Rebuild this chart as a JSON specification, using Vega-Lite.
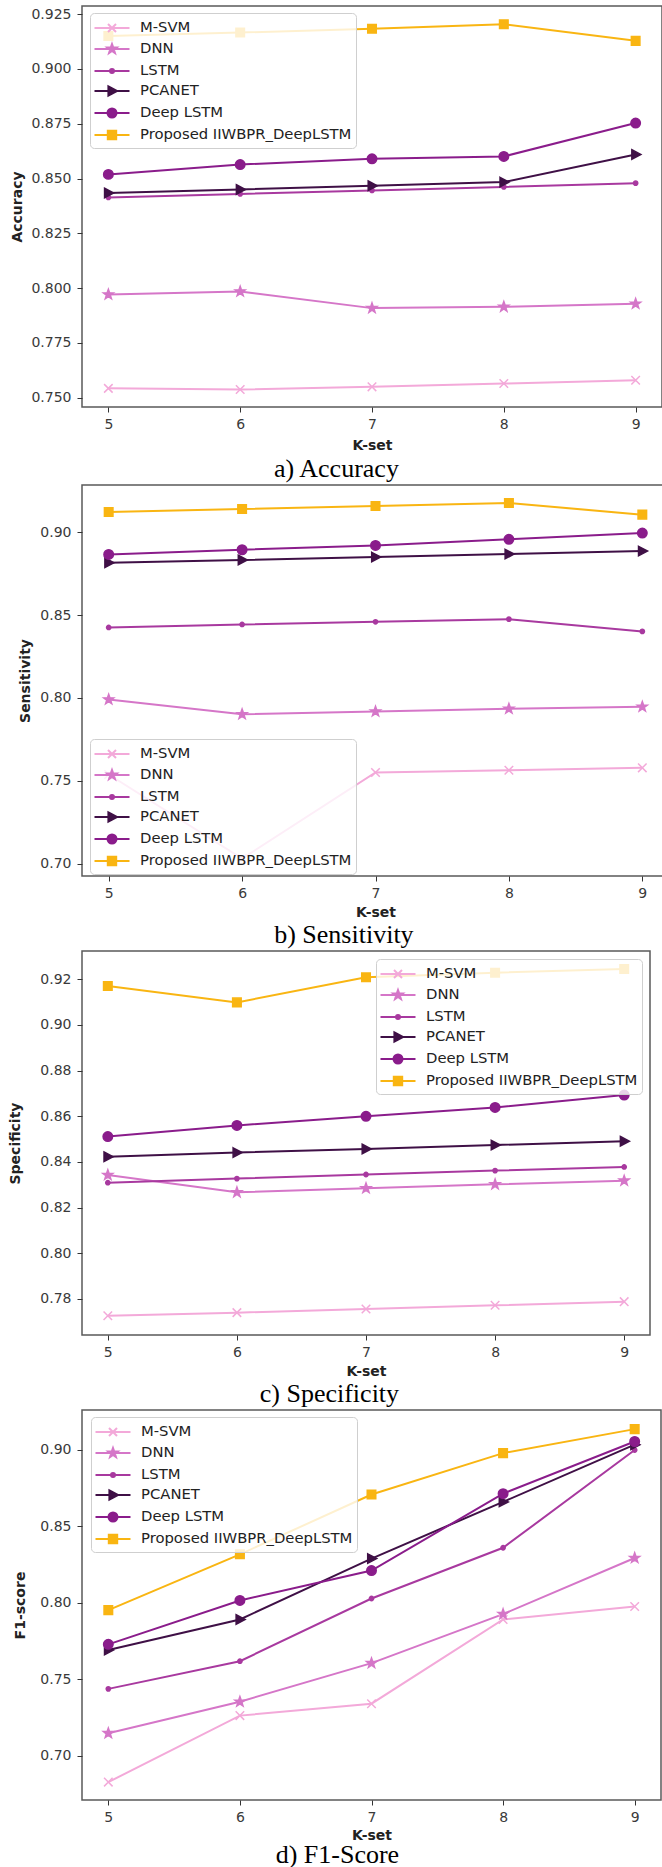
{
  "$schema": "https://vega.github.io/schema/vega-lite/v6.json",
  "background": "white",
  "padding": {"left": 8, "top": 5, "right": 0, "bottom": 0},
  "data": {"values": [
    {"metric": "Accuracy", "model": "M-SVM", "k": 5, "value": 0.7543},
    {"metric": "Accuracy", "model": "M-SVM", "k": 6, "value": 0.7538},
    {"metric": "Accuracy", "model": "M-SVM", "k": 7, "value": 0.755},
    {"metric": "Accuracy", "model": "M-SVM", "k": 8, "value": 0.7565},
    {"metric": "Accuracy", "model": "M-SVM", "k": 9, "value": 0.758},
    {"metric": "Accuracy", "model": "DNN", "k": 5, "value": 0.7971},
    {"metric": "Accuracy", "model": "DNN", "k": 6, "value": 0.7985},
    {"metric": "Accuracy", "model": "DNN", "k": 7, "value": 0.7909},
    {"metric": "Accuracy", "model": "DNN", "k": 8, "value": 0.7915},
    {"metric": "Accuracy", "model": "DNN", "k": 9, "value": 0.7929},
    {"metric": "Accuracy", "model": "LSTM", "k": 5, "value": 0.8414},
    {"metric": "Accuracy", "model": "LSTM", "k": 6, "value": 0.843},
    {"metric": "Accuracy", "model": "LSTM", "k": 7, "value": 0.8446},
    {"metric": "Accuracy", "model": "LSTM", "k": 8, "value": 0.8462},
    {"metric": "Accuracy", "model": "LSTM", "k": 9, "value": 0.8479},
    {"metric": "Accuracy", "model": "PCANET", "k": 5, "value": 0.8434},
    {"metric": "Accuracy", "model": "PCANET", "k": 6, "value": 0.845},
    {"metric": "Accuracy", "model": "PCANET", "k": 7, "value": 0.8467},
    {"metric": "Accuracy", "model": "PCANET", "k": 8, "value": 0.8484},
    {"metric": "Accuracy", "model": "PCANET", "k": 9, "value": 0.861},
    {"metric": "Accuracy", "model": "Deep LSTM", "k": 5, "value": 0.8519},
    {"metric": "Accuracy", "model": "Deep LSTM", "k": 6, "value": 0.8564},
    {"metric": "Accuracy", "model": "Deep LSTM", "k": 7, "value": 0.859},
    {"metric": "Accuracy", "model": "Deep LSTM", "k": 8, "value": 0.8601},
    {"metric": "Accuracy", "model": "Deep LSTM", "k": 9, "value": 0.8753},
    {"metric": "Accuracy", "model": "Proposed IIWBPR_DeepLSTM", "k": 5, "value": 0.915},
    {"metric": "Accuracy", "model": "Proposed IIWBPR_DeepLSTM", "k": 6, "value": 0.9166},
    {"metric": "Accuracy", "model": "Proposed IIWBPR_DeepLSTM", "k": 7, "value": 0.9183},
    {"metric": "Accuracy", "model": "Proposed IIWBPR_DeepLSTM", "k": 8, "value": 0.9204},
    {"metric": "Accuracy", "model": "Proposed IIWBPR_DeepLSTM", "k": 9, "value": 0.9128},

    {"metric": "Sensitivity", "model": "M-SVM", "k": 5, "value": 0.7538},
    {"metric": "Sensitivity", "model": "M-SVM", "k": 6, "value": 0.703},
    {"metric": "Sensitivity", "model": "M-SVM", "k": 7, "value": 0.755},
    {"metric": "Sensitivity", "model": "M-SVM", "k": 8, "value": 0.7564},
    {"metric": "Sensitivity", "model": "M-SVM", "k": 9, "value": 0.7578},
    {"metric": "Sensitivity", "model": "DNN", "k": 5, "value": 0.7991},
    {"metric": "Sensitivity", "model": "DNN", "k": 6, "value": 0.7902},
    {"metric": "Sensitivity", "model": "DNN", "k": 7, "value": 0.7918},
    {"metric": "Sensitivity", "model": "DNN", "k": 8, "value": 0.7935},
    {"metric": "Sensitivity", "model": "DNN", "k": 9, "value": 0.7947},
    {"metric": "Sensitivity", "model": "LSTM", "k": 5, "value": 0.8426},
    {"metric": "Sensitivity", "model": "LSTM", "k": 6, "value": 0.8444},
    {"metric": "Sensitivity", "model": "LSTM", "k": 7, "value": 0.846},
    {"metric": "Sensitivity", "model": "LSTM", "k": 8, "value": 0.8476},
    {"metric": "Sensitivity", "model": "LSTM", "k": 9, "value": 0.8402},
    {"metric": "Sensitivity", "model": "PCANET", "k": 5, "value": 0.8817},
    {"metric": "Sensitivity", "model": "PCANET", "k": 6, "value": 0.8833},
    {"metric": "Sensitivity", "model": "PCANET", "k": 7, "value": 0.8851},
    {"metric": "Sensitivity", "model": "PCANET", "k": 8, "value": 0.8869},
    {"metric": "Sensitivity", "model": "PCANET", "k": 9, "value": 0.8887},
    {"metric": "Sensitivity", "model": "Deep LSTM", "k": 5, "value": 0.8867},
    {"metric": "Sensitivity", "model": "Deep LSTM", "k": 6, "value": 0.8895},
    {"metric": "Sensitivity", "model": "Deep LSTM", "k": 7, "value": 0.8921},
    {"metric": "Sensitivity", "model": "Deep LSTM", "k": 8, "value": 0.8958},
    {"metric": "Sensitivity", "model": "Deep LSTM", "k": 9, "value": 0.8996},
    {"metric": "Sensitivity", "model": "Proposed IIWBPR_DeepLSTM", "k": 5, "value": 0.9123},
    {"metric": "Sensitivity", "model": "Proposed IIWBPR_DeepLSTM", "k": 6, "value": 0.9141},
    {"metric": "Sensitivity", "model": "Proposed IIWBPR_DeepLSTM", "k": 7, "value": 0.9159},
    {"metric": "Sensitivity", "model": "Proposed IIWBPR_DeepLSTM", "k": 8, "value": 0.9177},
    {"metric": "Sensitivity", "model": "Proposed IIWBPR_DeepLSTM", "k": 9, "value": 0.9107},

    {"metric": "Specificity", "model": "M-SVM", "k": 5, "value": 0.7726},
    {"metric": "Specificity", "model": "M-SVM", "k": 6, "value": 0.774},
    {"metric": "Specificity", "model": "M-SVM", "k": 7, "value": 0.7756},
    {"metric": "Specificity", "model": "M-SVM", "k": 8, "value": 0.7772},
    {"metric": "Specificity", "model": "M-SVM", "k": 9, "value": 0.7788},
    {"metric": "Specificity", "model": "DNN", "k": 5, "value": 0.8343},
    {"metric": "Specificity", "model": "DNN", "k": 6, "value": 0.8267},
    {"metric": "Specificity", "model": "DNN", "k": 7, "value": 0.8285},
    {"metric": "Specificity", "model": "DNN", "k": 8, "value": 0.8302},
    {"metric": "Specificity", "model": "DNN", "k": 9, "value": 0.8318},
    {"metric": "Specificity", "model": "LSTM", "k": 5, "value": 0.8309},
    {"metric": "Specificity", "model": "LSTM", "k": 6, "value": 0.8327},
    {"metric": "Specificity", "model": "LSTM", "k": 7, "value": 0.8345},
    {"metric": "Specificity", "model": "LSTM", "k": 8, "value": 0.8362},
    {"metric": "Specificity", "model": "LSTM", "k": 9, "value": 0.8378},
    {"metric": "Specificity", "model": "PCANET", "k": 5, "value": 0.8423},
    {"metric": "Specificity", "model": "PCANET", "k": 6, "value": 0.8441},
    {"metric": "Specificity", "model": "PCANET", "k": 7, "value": 0.8457},
    {"metric": "Specificity", "model": "PCANET", "k": 8, "value": 0.8474},
    {"metric": "Specificity", "model": "PCANET", "k": 9, "value": 0.8491},
    {"metric": "Specificity", "model": "Deep LSTM", "k": 5, "value": 0.8511},
    {"metric": "Specificity", "model": "Deep LSTM", "k": 6, "value": 0.856},
    {"metric": "Specificity", "model": "Deep LSTM", "k": 7, "value": 0.86},
    {"metric": "Specificity", "model": "Deep LSTM", "k": 8, "value": 0.8639},
    {"metric": "Specificity", "model": "Deep LSTM", "k": 9, "value": 0.8693},
    {"metric": "Specificity", "model": "Proposed IIWBPR_DeepLSTM", "k": 5, "value": 0.9171},
    {"metric": "Specificity", "model": "Proposed IIWBPR_DeepLSTM", "k": 6, "value": 0.9099},
    {"metric": "Specificity", "model": "Proposed IIWBPR_DeepLSTM", "k": 7, "value": 0.9209},
    {"metric": "Specificity", "model": "Proposed IIWBPR_DeepLSTM", "k": 8, "value": 0.9229},
    {"metric": "Specificity", "model": "Proposed IIWBPR_DeepLSTM", "k": 9, "value": 0.9245},

    {"metric": "F1-score", "model": "M-SVM", "k": 5, "value": 0.6826},
    {"metric": "F1-score", "model": "M-SVM", "k": 6, "value": 0.7261},
    {"metric": "F1-score", "model": "M-SVM", "k": 7, "value": 0.7339},
    {"metric": "F1-score", "model": "M-SVM", "k": 8, "value": 0.789},
    {"metric": "F1-score", "model": "M-SVM", "k": 9, "value": 0.7975},
    {"metric": "F1-score", "model": "DNN", "k": 5, "value": 0.7146},
    {"metric": "F1-score", "model": "DNN", "k": 6, "value": 0.7352},
    {"metric": "F1-score", "model": "DNN", "k": 7, "value": 0.7604},
    {"metric": "F1-score", "model": "DNN", "k": 8, "value": 0.7925},
    {"metric": "F1-score", "model": "DNN", "k": 9, "value": 0.8292},
    {"metric": "F1-score", "model": "LSTM", "k": 5, "value": 0.7436},
    {"metric": "F1-score", "model": "LSTM", "k": 6, "value": 0.7617},
    {"metric": "F1-score", "model": "LSTM", "k": 7, "value": 0.8027},
    {"metric": "F1-score", "model": "LSTM", "k": 8, "value": 0.8359},
    {"metric": "F1-score", "model": "LSTM", "k": 9, "value": 0.8998},
    {"metric": "F1-score", "model": "PCANET", "k": 5, "value": 0.769},
    {"metric": "F1-score", "model": "PCANET", "k": 6, "value": 0.789},
    {"metric": "F1-score", "model": "PCANET", "k": 7, "value": 0.8288},
    {"metric": "F1-score", "model": "PCANET", "k": 8, "value": 0.8659},
    {"metric": "F1-score", "model": "PCANET", "k": 9, "value": 0.9033},
    {"metric": "F1-score", "model": "Deep LSTM", "k": 5, "value": 0.7727},
    {"metric": "F1-score", "model": "Deep LSTM", "k": 6, "value": 0.8014},
    {"metric": "F1-score", "model": "Deep LSTM", "k": 7, "value": 0.821},
    {"metric": "F1-score", "model": "Deep LSTM", "k": 8, "value": 0.8713},
    {"metric": "F1-score", "model": "Deep LSTM", "k": 9, "value": 0.9054},
    {"metric": "F1-score", "model": "Proposed IIWBPR_DeepLSTM", "k": 5, "value": 0.7951},
    {"metric": "F1-score", "model": "Proposed IIWBPR_DeepLSTM", "k": 6, "value": 0.8316},
    {"metric": "F1-score", "model": "Proposed IIWBPR_DeepLSTM", "k": 7, "value": 0.8707},
    {"metric": "F1-score", "model": "Proposed IIWBPR_DeepLSTM", "k": 8, "value": 0.8978},
    {"metric": "F1-score", "model": "Proposed IIWBPR_DeepLSTM", "k": 9, "value": 0.9135}
  ]},
  "columns": 1,
  "align": "none",
  "spacing": 1,
  "resolve": {"scale": {"color": "independent", "shape": "independent", "stroke": "independent"}},
  "concat": [
    {
      "width": 580, "height": 401,
      "transform": [{"filter": "datum.metric === 'Accuracy'"}],
      "title": {"text": "a) Accuracy", "orient": "bottom", "anchor": "middle", "frame": "bounds", "font": "Liberation Serif", "fontSize": 26, "fontWeight": "normal", "color": "#000000", "offset": 4},
      "encoding": {
        "x": {"field": "k", "type": "quantitative", "scale": {"domain": [4.8, 9.2], "nice": false, "zero": false}, "axis": {"values": [5, 6, 7, 8, 9], "format": "d", "title": "K-set", "titlePadding": 7}},
        "y": {"field": "value", "type": "quantitative", "scale": {"domain": [0.7458, 0.9287], "nice": false, "zero": false}, "axis": {"values": [0.75, 0.775, 0.8, 0.825, 0.85, 0.875, 0.9, 0.925], "format": ".3f", "title": "Accuracy", "titlePadding": 6}}
      },
      "layer": [
        {"mark": {"type": "line", "strokeWidth": 2}, "encoding": {"color": {"field": "model", "type": "nominal", "scale": {"domain": ["M-SVM", "DNN", "LSTM", "PCANET", "Deep LSTM", "Proposed IIWBPR_DeepLSTM"], "range": ["#f3a9d9", "#d576c8", "#a8399f", "#3f1046", "#8a1c8b", "#f9b512"]}}}},
        {"mark": {"type": "point", "filled": true, "size": 90, "opacity": 1, "strokeWidth": 1.5},
         "encoding": {
           "color": {"field": "model", "type": "nominal", "scale": {"domain": ["M-SVM", "DNN", "LSTM", "PCANET", "Deep LSTM", "Proposed IIWBPR_DeepLSTM"], "range": ["#f3a9d9", "#d576c8", "#a8399f", "#3f1046", "#8a1c8b", "#f9b512"]},
             "legend": {"orient": "none", "legendX": 8, "legendY": 7, "title": null, "fillColor": "rgba(255,255,255,0.8)", "strokeColor": "#cfcfcf", "cornerRadius": 4, "padding": 4, "labelFont": "DejaVu Sans", "labelFontSize": 14.8, "labelColor": "#222222", "labelLimit": 400, "symbolOffset": 7, "labelOffset": 17, "rowPadding": 2, "symbolSize": 400, "symbolStrokeWidth": 2,
               "encoding": {"symbols": {
                 "shape": {"condition": [
                   {"test": "datum.value === 'M-SVM'", "value": "M-1.75,0H1.75M-0.4,-0.4L0.4,0.4M-0.4,0.4L0.4,-0.4"},
                   {"test": "datum.value === 'DNN'", "value": "M-1.75,0H1.75M0,-0.5L0.118,-0.162L0.476,-0.155L0.19,0.062L0.294,0.405L0,0.2L-0.294,0.405L-0.19,0.062L-0.476,-0.155L-0.118,-0.162Z"},
                   {"test": "datum.value === 'LSTM'", "value": "M-1.75,0H1.75M0.2,0A0.2,0.2,0,1,1,-0.2,0A0.2,0.2,0,1,1,0.2,0Z"},
                   {"test": "datum.value === 'PCANET'", "value": "M-1.75,0H1.75M-0.36,-0.45L0.5,0L-0.36,0.45Z"},
                   {"test": "datum.value === 'Deep LSTM'", "value": "M-1.75,0H1.75M0.45,0A0.45,0.45,0,1,1,-0.45,0A0.45,0.45,0,1,1,0.45,0Z"}
                 ], "value": "M-1.75,0H1.75M-0.42,-0.42H0.42V0.42H-0.42Z"},
                 "stroke": {"condition": [
                   {"test": "datum.value === 'M-SVM'", "value": "#f3a9d9"},
                   {"test": "datum.value === 'DNN'", "value": "#d576c8"},
                   {"test": "datum.value === 'LSTM'", "value": "#a8399f"},
                   {"test": "datum.value === 'PCANET'", "value": "#3f1046"},
                   {"test": "datum.value === 'Deep LSTM'", "value": "#8a1c8b"}
                 ], "value": "#f9b512"},
                 "strokeWidth": {"value": 2}, "opacity": {"value": 1}
               }}
             }},
           "stroke": {"field": "model", "type": "nominal", "legend": null, "scale": {"domain": ["Proposed IIWBPR_DeepLSTM", "Deep LSTM", "PCANET", "LSTM", "DNN", "M-SVM"], "range": ["#f9b512", "#8a1c8b", "#3f1046", "#a8399f", "#d576c8", "#f3a9d9"]}},
           "shape": {"field": "model", "type": "nominal", "legend": null,
             "scale": {"domain": ["Proposed IIWBPR_DeepLSTM", "Deep LSTM", "PCANET", "LSTM", "DNN", "M-SVM"], "range": ["M-0.9,-0.9H0.9V0.9H-0.9Z", "M1,0A1,1,0,1,1,-1,0A1,1,0,1,1,1,0Z", "M-0.8,-1L1.1,0L-0.8,1Z", "M0.45,0A0.45,0.45,0,1,1,-0.45,0A0.45,0.45,0,1,1,0.45,0Z", "M0,-1.1L0.259,-0.356L1.046,-0.34L0.418,0.136L0.647,0.89L0,0.44L-0.647,0.89L-0.418,0.136L-1.046,-0.34L-0.259,-0.356Z", "M-0.9,-0.9L0.9,0.9M-0.9,0.9L0.9,-0.9"]}}
         }}
      ]
    },
    {
      "width": 587, "height": 391,
      "transform": [{"filter": "datum.metric === 'Sensitivity'"}],
      "title": {"text": "b) Sensitivity", "orient": "bottom", "anchor": "middle", "frame": "bounds", "font": "Liberation Serif", "fontSize": 26, "fontWeight": "normal", "color": "#000000", "offset": 3},
      "encoding": {
        "x": {"field": "k", "type": "quantitative", "scale": {"domain": [4.8, 9.2], "nice": false, "zero": false}, "axis": {"values": [5, 6, 7, 8, 9], "format": "d", "title": "K-set", "titlePadding": 5}},
        "y": {"field": "value", "type": "quantitative", "scale": {"domain": [0.6925, 0.9286], "nice": false, "zero": false}, "axis": {"values": [0.7, 0.75, 0.8, 0.85, 0.9], "format": ".2f", "title": "Sensitivity", "titlePadding": 7}}
      },
      "layer": [
        {"mark": {"type": "line", "strokeWidth": 2}, "encoding": {"color": {"field": "model", "type": "nominal", "scale": {"domain": ["M-SVM", "DNN", "LSTM", "PCANET", "Deep LSTM", "Proposed IIWBPR_DeepLSTM"], "range": ["#f3a9d9", "#d576c8", "#a8399f", "#3f1046", "#8a1c8b", "#f9b512"]}}}},
        {"mark": {"type": "point", "filled": true, "size": 90, "opacity": 1, "strokeWidth": 1.5},
         "encoding": {
           "color": {"field": "model", "type": "nominal", "scale": {"domain": ["M-SVM", "DNN", "LSTM", "PCANET", "Deep LSTM", "Proposed IIWBPR_DeepLSTM"], "range": ["#f3a9d9", "#d576c8", "#a8399f", "#3f1046", "#8a1c8b", "#f9b512"]},
             "legend": {"orient": "none", "legendX": 8, "legendY": 254, "title": null, "fillColor": "rgba(255,255,255,0.8)", "strokeColor": "#cfcfcf", "cornerRadius": 4, "padding": 4, "labelFont": "DejaVu Sans", "labelFontSize": 14.8, "labelColor": "#222222", "labelLimit": 400, "symbolOffset": 7, "labelOffset": 17, "rowPadding": 2, "symbolSize": 400, "symbolStrokeWidth": 2,
               "encoding": {"symbols": {
                 "shape": {"condition": [
                   {"test": "datum.value === 'M-SVM'", "value": "M-1.75,0H1.75M-0.4,-0.4L0.4,0.4M-0.4,0.4L0.4,-0.4"},
                   {"test": "datum.value === 'DNN'", "value": "M-1.75,0H1.75M0,-0.5L0.118,-0.162L0.476,-0.155L0.19,0.062L0.294,0.405L0,0.2L-0.294,0.405L-0.19,0.062L-0.476,-0.155L-0.118,-0.162Z"},
                   {"test": "datum.value === 'LSTM'", "value": "M-1.75,0H1.75M0.2,0A0.2,0.2,0,1,1,-0.2,0A0.2,0.2,0,1,1,0.2,0Z"},
                   {"test": "datum.value === 'PCANET'", "value": "M-1.75,0H1.75M-0.36,-0.45L0.5,0L-0.36,0.45Z"},
                   {"test": "datum.value === 'Deep LSTM'", "value": "M-1.75,0H1.75M0.45,0A0.45,0.45,0,1,1,-0.45,0A0.45,0.45,0,1,1,0.45,0Z"}
                 ], "value": "M-1.75,0H1.75M-0.42,-0.42H0.42V0.42H-0.42Z"},
                 "stroke": {"condition": [
                   {"test": "datum.value === 'M-SVM'", "value": "#f3a9d9"},
                   {"test": "datum.value === 'DNN'", "value": "#d576c8"},
                   {"test": "datum.value === 'LSTM'", "value": "#a8399f"},
                   {"test": "datum.value === 'PCANET'", "value": "#3f1046"},
                   {"test": "datum.value === 'Deep LSTM'", "value": "#8a1c8b"}
                 ], "value": "#f9b512"},
                 "strokeWidth": {"value": 2}, "opacity": {"value": 1}
               }}
             }},
           "stroke": {"field": "model", "type": "nominal", "legend": null, "scale": {"domain": ["Proposed IIWBPR_DeepLSTM", "Deep LSTM", "PCANET", "LSTM", "DNN", "M-SVM"], "range": ["#f9b512", "#8a1c8b", "#3f1046", "#a8399f", "#d576c8", "#f3a9d9"]}},
           "shape": {"field": "model", "type": "nominal", "legend": null,
             "scale": {"domain": ["Proposed IIWBPR_DeepLSTM", "Deep LSTM", "PCANET", "LSTM", "DNN", "M-SVM"], "range": ["M-0.9,-0.9H0.9V0.9H-0.9Z", "M1,0A1,1,0,1,1,-1,0A1,1,0,1,1,1,0Z", "M-0.8,-1L1.1,0L-0.8,1Z", "M0.45,0A0.45,0.45,0,1,1,-0.45,0A0.45,0.45,0,1,1,0.45,0Z", "M0,-1.1L0.259,-0.356L1.046,-0.34L0.418,0.136L0.647,0.89L0,0.44L-0.647,0.89L-0.418,0.136L-1.046,-0.34L-0.259,-0.356Z", "M-0.9,-0.9L0.9,0.9M-0.9,0.9L0.9,-0.9"]}}
         }}
      ]
    },
    {
      "width": 568, "height": 384,
      "transform": [{"filter": "datum.metric === 'Specificity'"}],
      "title": {"text": "c) Specificity", "orient": "bottom", "anchor": "middle", "frame": "bounds", "font": "Liberation Serif", "fontSize": 26, "fontWeight": "normal", "color": "#000000", "offset": 3},
      "encoding": {
        "x": {"field": "k", "type": "quantitative", "scale": {"domain": [4.8, 9.2], "nice": false, "zero": false}, "axis": {"values": [5, 6, 7, 8, 9], "format": "d", "title": "K-set", "titlePadding": 5}},
        "y": {"field": "value", "type": "quantitative", "scale": {"domain": [0.7642, 0.9324], "nice": false, "zero": false}, "axis": {"values": [0.78, 0.8, 0.82, 0.84, 0.86, 0.88, 0.9, 0.92], "format": ".2f", "title": "Specificity", "titlePadding": 17}}
      },
      "layer": [
        {"mark": {"type": "line", "strokeWidth": 2}, "encoding": {"color": {"field": "model", "type": "nominal", "scale": {"domain": ["M-SVM", "DNN", "LSTM", "PCANET", "Deep LSTM", "Proposed IIWBPR_DeepLSTM"], "range": ["#f3a9d9", "#d576c8", "#a8399f", "#3f1046", "#8a1c8b", "#f9b512"]}}}},
        {"mark": {"type": "point", "filled": true, "size": 90, "opacity": 1, "strokeWidth": 1.5},
         "encoding": {
           "color": {"field": "model", "type": "nominal", "scale": {"domain": ["M-SVM", "DNN", "LSTM", "PCANET", "Deep LSTM", "Proposed IIWBPR_DeepLSTM"], "range": ["#f3a9d9", "#d576c8", "#a8399f", "#3f1046", "#8a1c8b", "#f9b512"]},
             "legend": {"orient": "none", "legendX": 294, "legendY": 8, "title": null, "fillColor": "rgba(255,255,255,0.8)", "strokeColor": "#cfcfcf", "cornerRadius": 4, "padding": 4, "labelFont": "DejaVu Sans", "labelFontSize": 14.8, "labelColor": "#222222", "labelLimit": 400, "symbolOffset": 7, "labelOffset": 17, "rowPadding": 2, "symbolSize": 400, "symbolStrokeWidth": 2,
               "encoding": {"symbols": {
                 "shape": {"condition": [
                   {"test": "datum.value === 'M-SVM'", "value": "M-1.75,0H1.75M-0.4,-0.4L0.4,0.4M-0.4,0.4L0.4,-0.4"},
                   {"test": "datum.value === 'DNN'", "value": "M-1.75,0H1.75M0,-0.5L0.118,-0.162L0.476,-0.155L0.19,0.062L0.294,0.405L0,0.2L-0.294,0.405L-0.19,0.062L-0.476,-0.155L-0.118,-0.162Z"},
                   {"test": "datum.value === 'LSTM'", "value": "M-1.75,0H1.75M0.2,0A0.2,0.2,0,1,1,-0.2,0A0.2,0.2,0,1,1,0.2,0Z"},
                   {"test": "datum.value === 'PCANET'", "value": "M-1.75,0H1.75M-0.36,-0.45L0.5,0L-0.36,0.45Z"},
                   {"test": "datum.value === 'Deep LSTM'", "value": "M-1.75,0H1.75M0.45,0A0.45,0.45,0,1,1,-0.45,0A0.45,0.45,0,1,1,0.45,0Z"}
                 ], "value": "M-1.75,0H1.75M-0.42,-0.42H0.42V0.42H-0.42Z"},
                 "stroke": {"condition": [
                   {"test": "datum.value === 'M-SVM'", "value": "#f3a9d9"},
                   {"test": "datum.value === 'DNN'", "value": "#d576c8"},
                   {"test": "datum.value === 'LSTM'", "value": "#a8399f"},
                   {"test": "datum.value === 'PCANET'", "value": "#3f1046"},
                   {"test": "datum.value === 'Deep LSTM'", "value": "#8a1c8b"}
                 ], "value": "#f9b512"},
                 "strokeWidth": {"value": 2}, "opacity": {"value": 1}
               }}
             }},
           "stroke": {"field": "model", "type": "nominal", "legend": null, "scale": {"domain": ["Proposed IIWBPR_DeepLSTM", "Deep LSTM", "PCANET", "LSTM", "DNN", "M-SVM"], "range": ["#f9b512", "#8a1c8b", "#3f1046", "#a8399f", "#d576c8", "#f3a9d9"]}},
           "shape": {"field": "model", "type": "nominal", "legend": null,
             "scale": {"domain": ["Proposed IIWBPR_DeepLSTM", "Deep LSTM", "PCANET", "LSTM", "DNN", "M-SVM"], "range": ["M-0.9,-0.9H0.9V0.9H-0.9Z", "M1,0A1,1,0,1,1,-1,0A1,1,0,1,1,1,0Z", "M-0.8,-1L1.1,0L-0.8,1Z", "M0.45,0A0.45,0.45,0,1,1,-0.45,0A0.45,0.45,0,1,1,0.45,0Z", "M0,-1.1L0.259,-0.356L1.046,-0.34L0.418,0.136L0.647,0.89L0,0.44L-0.647,0.89L-0.418,0.136L-1.046,-0.34L-0.259,-0.356Z", "M-0.9,-0.9L0.9,0.9M-0.9,0.9L0.9,-0.9"]}}
         }}
      ]
    },
    {
      "width": 579, "height": 390,
      "transform": [{"filter": "datum.metric === 'F1-score'"}],
      "title": {"text": "d) F1-Score", "orient": "bottom", "anchor": "middle", "frame": "bounds", "font": "Liberation Serif", "fontSize": 26, "fontWeight": "normal", "color": "#000000", "offset": 0},
      "encoding": {
        "x": {"field": "k", "type": "quantitative", "scale": {"domain": [4.8, 9.2], "nice": false, "zero": false}, "axis": {"values": [5, 6, 7, 8, 9], "format": "d", "title": "K-set", "titlePadding": 4}},
        "y": {"field": "value", "type": "quantitative", "scale": {"domain": [0.6709, 0.926], "nice": false, "zero": false}, "axis": {"values": [0.7, 0.75, 0.8, 0.85, 0.9], "format": ".2f", "title": "F1-score", "titlePadding": 12}}
      },
      "layer": [
        {"mark": {"type": "line", "strokeWidth": 2}, "encoding": {"color": {"field": "model", "type": "nominal", "scale": {"domain": ["M-SVM", "DNN", "LSTM", "PCANET", "Deep LSTM", "Proposed IIWBPR_DeepLSTM"], "range": ["#f3a9d9", "#d576c8", "#a8399f", "#3f1046", "#8a1c8b", "#f9b512"]}}}},
        {"mark": {"type": "point", "filled": true, "size": 90, "opacity": 1, "strokeWidth": 1.5},
         "encoding": {
           "color": {"field": "model", "type": "nominal", "scale": {"domain": ["M-SVM", "DNN", "LSTM", "PCANET", "Deep LSTM", "Proposed IIWBPR_DeepLSTM"], "range": ["#f3a9d9", "#d576c8", "#a8399f", "#3f1046", "#8a1c8b", "#f9b512"]},
             "legend": {"orient": "none", "legendX": 9, "legendY": 7, "title": null, "fillColor": "rgba(255,255,255,0.8)", "strokeColor": "#cfcfcf", "cornerRadius": 4, "padding": 4, "labelFont": "DejaVu Sans", "labelFontSize": 14.8, "labelColor": "#222222", "labelLimit": 400, "symbolOffset": 7, "labelOffset": 17, "rowPadding": 2, "symbolSize": 400, "symbolStrokeWidth": 2,
               "encoding": {"symbols": {
                 "shape": {"condition": [
                   {"test": "datum.value === 'M-SVM'", "value": "M-1.75,0H1.75M-0.4,-0.4L0.4,0.4M-0.4,0.4L0.4,-0.4"},
                   {"test": "datum.value === 'DNN'", "value": "M-1.75,0H1.75M0,-0.5L0.118,-0.162L0.476,-0.155L0.19,0.062L0.294,0.405L0,0.2L-0.294,0.405L-0.19,0.062L-0.476,-0.155L-0.118,-0.162Z"},
                   {"test": "datum.value === 'LSTM'", "value": "M-1.75,0H1.75M0.2,0A0.2,0.2,0,1,1,-0.2,0A0.2,0.2,0,1,1,0.2,0Z"},
                   {"test": "datum.value === 'PCANET'", "value": "M-1.75,0H1.75M-0.36,-0.45L0.5,0L-0.36,0.45Z"},
                   {"test": "datum.value === 'Deep LSTM'", "value": "M-1.75,0H1.75M0.45,0A0.45,0.45,0,1,1,-0.45,0A0.45,0.45,0,1,1,0.45,0Z"}
                 ], "value": "M-1.75,0H1.75M-0.42,-0.42H0.42V0.42H-0.42Z"},
                 "stroke": {"condition": [
                   {"test": "datum.value === 'M-SVM'", "value": "#f3a9d9"},
                   {"test": "datum.value === 'DNN'", "value": "#d576c8"},
                   {"test": "datum.value === 'LSTM'", "value": "#a8399f"},
                   {"test": "datum.value === 'PCANET'", "value": "#3f1046"},
                   {"test": "datum.value === 'Deep LSTM'", "value": "#8a1c8b"}
                 ], "value": "#f9b512"},
                 "strokeWidth": {"value": 2}, "opacity": {"value": 1}
               }}
             }},
           "stroke": {"field": "model", "type": "nominal", "legend": null, "scale": {"domain": ["Proposed IIWBPR_DeepLSTM", "Deep LSTM", "PCANET", "LSTM", "DNN", "M-SVM"], "range": ["#f9b512", "#8a1c8b", "#3f1046", "#a8399f", "#d576c8", "#f3a9d9"]}},
           "shape": {"field": "model", "type": "nominal", "legend": null,
             "scale": {"domain": ["Proposed IIWBPR_DeepLSTM", "Deep LSTM", "PCANET", "LSTM", "DNN", "M-SVM"], "range": ["M-0.9,-0.9H0.9V0.9H-0.9Z", "M1,0A1,1,0,1,1,-1,0A1,1,0,1,1,1,0Z", "M-0.8,-1L1.1,0L-0.8,1Z", "M0.45,0A0.45,0.45,0,1,1,-0.45,0A0.45,0.45,0,1,1,0.45,0Z", "M0,-1.1L0.259,-0.356L1.046,-0.34L0.418,0.136L0.647,0.89L0,0.44L-0.647,0.89L-0.418,0.136L-1.046,-0.34L-0.259,-0.356Z", "M-0.9,-0.9L0.9,0.9M-0.9,0.9L0.9,-0.9"]}}
         }}
      ]
    }
  ],
  "config": {
    "view": {"stroke": "#5a5a5a", "strokeWidth": 1.5},
    "axis": {"domain": false, "grid": false, "ticks": true, "tickSize": 5, "tickColor": "#333333", "tickWidth": 1, "labelFont": "DejaVu Sans", "labelFontSize": 14, "labelColor": "#3a3a3a", "titleFont": "DejaVu Sans", "titleFontSize": 14, "titleFontWeight": "bold", "titleColor": "#222222"},
    "axisX": {"labelPadding": 5},
    "axisY": {"labelPadding": 6}
  }
}
